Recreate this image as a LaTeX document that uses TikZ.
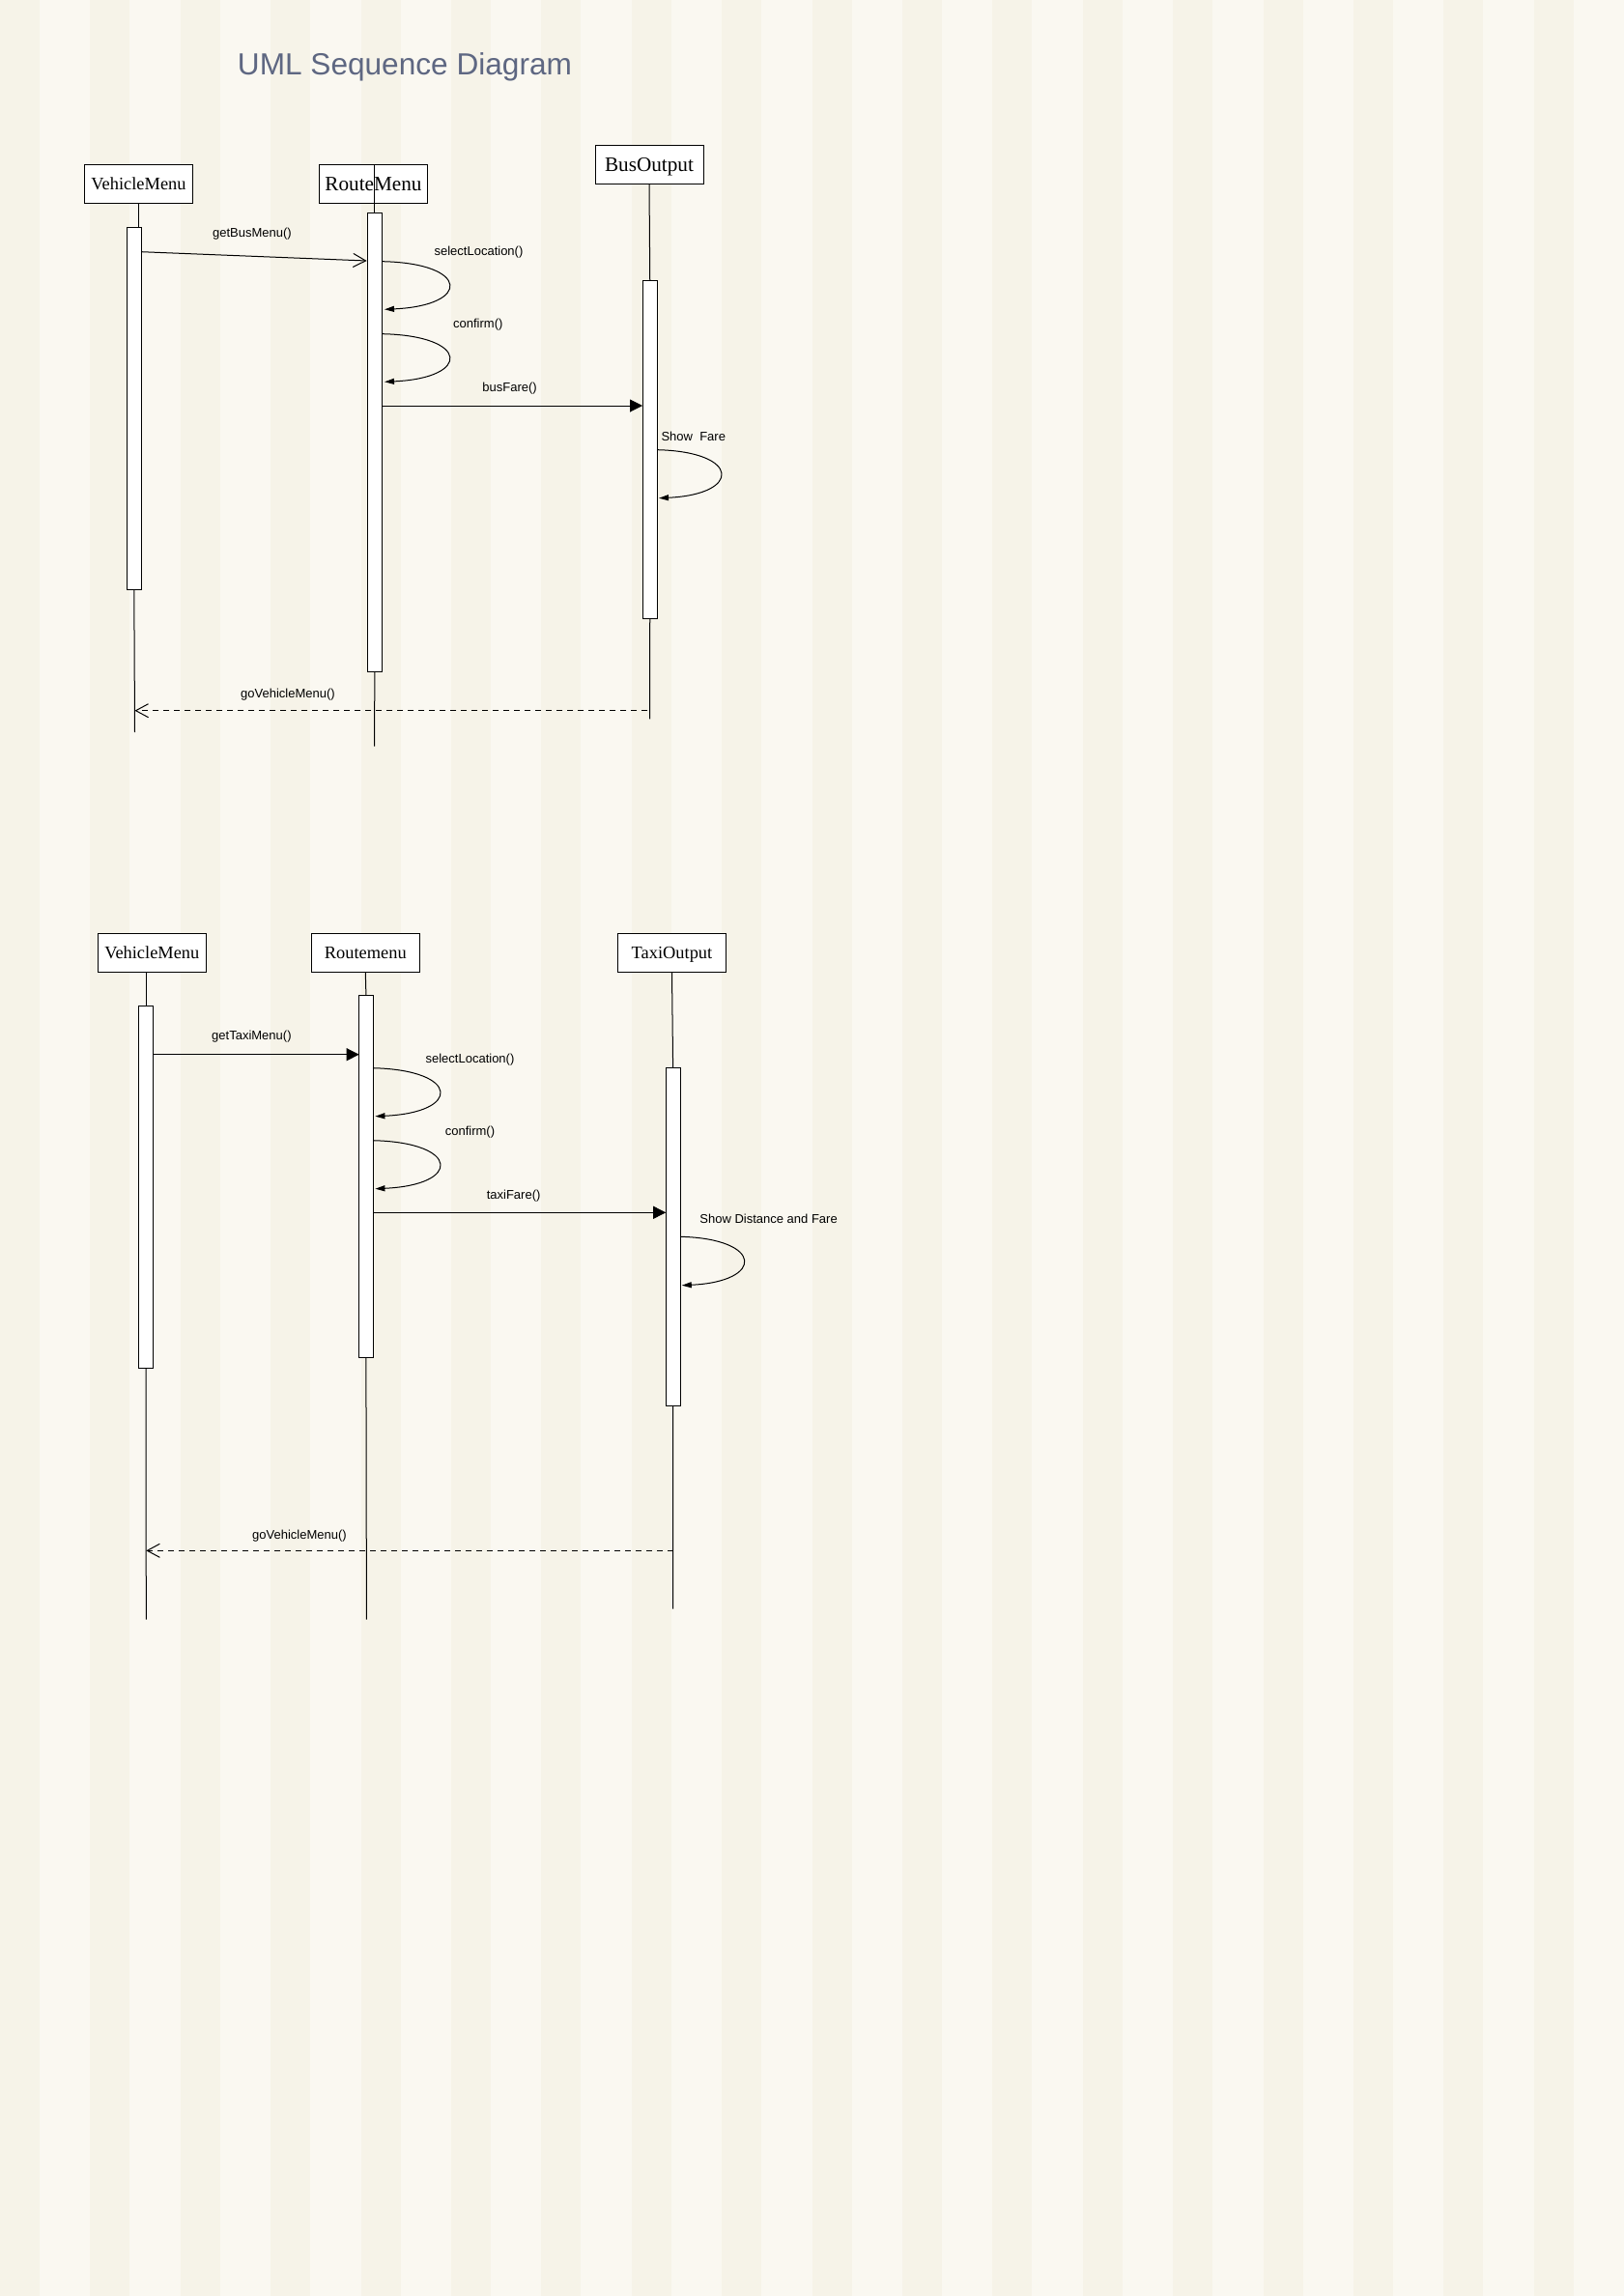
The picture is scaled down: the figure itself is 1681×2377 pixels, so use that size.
\documentclass[tikz,border=0pt]{standalone}
\usepackage{fontspec}
\setmainfont{Liberation Serif}
\newfontfamily\msgfont{Liberation Sans}
\usetikzlibrary{arrows.meta}
\definecolor{stripelight}{RGB}{250,248,241}
\definecolor{stripedark}{RGB}{246,243,232}
\definecolor{titleblue}{RGB}{94,103,130}

\begin{document}
\begin{tikzpicture}[x=0.5pt, y=-0.5pt,
	obj/.style={draw, fill=white, line width=0.5pt, minimum width=56pt, minimum height=20pt, inner sep=0pt, text height=6pt, text depth=0pt, font=\fontsize{9.2}{10}\selectfont},
	bigobj/.style={obj, text height=7pt, font=\fontsize{10.6}{12}\selectfont},
	bar/.style={draw, fill=white, line width=0.5pt, minimum width=7.6pt, inner sep=0pt},
	life/.style={line width=0.5pt},
	msg/.style={font=\msgfont\fontsize{6.5}{7.5}\selectfont, inner sep=0pt},
	syncmsg/.style={line width=0.5pt, -{Triangle[length=6.5pt,width=6.5pt]}},
	asyncmsg/.style={line width=0.5pt, -{Straight Barb[length=6.5pt,width=7pt]}},
	retmsg/.style={asyncmsg, dash pattern=on 3pt off 2.5pt},
	selfmsg/.style={line width=0.5pt, -{Triangle[length=5pt,width=3pt]}}]

	\fill[stripelight] (0,0) rectangle (1681,2377);
	\foreach \i in {0,...,17}
		\fill[stripedark] (\i*93.4,0) rectangle ++(41,2377);
	\useasboundingbox (0,0) rectangle (1681,2377);

	\node[msg, font=\msgfont\fontsize{15.8}{19}\selectfont, text=titleblue] (title) at (419,69.5) {UML Sequence Diagram};

	\node[obj] (vm1) at (143.5,190.5) {VehicleMenu};
	\node[bigobj] (rm1) at (386.5,190.5) {RouteMenu};
	\node[bigobj] (bo1) at (672,170.7) {BusOutput};
	\node[bar, minimum height=187.2pt] (vm1b) at (138.8,422.9) {};
	\node[bar, minimum height=237.7pt] (rm1b) at (387.9,458) {};
	\node[bar, minimum height=175pt] (bo1b) at (672.75,465.7) {};
	\coordinate (vm1e) at (139.5,758);
	\coordinate (rm1e) at (387.5,772.7);
	\coordinate (bo1e) at (672.5,744.3);

	\draw[life] (vm1.south) -- (vm1b.north -| vm1.south);
	\draw[life] (vm1b.south) -- (vm1e);
	\draw[life] (rm1b.north |- rm1.north) -- (rm1b.north);
	\draw[life] (rm1b.south) -- (rm1e);
	\draw[life] (bo1.south) -- (bo1b.north);
	\draw[life] (bo1b.south) -- (bo1e);

	\coordinate (m1a) at (146.2,260.7);
	\coordinate (m1b) at (379.6,270);
	\coordinate (m2a) at (396.2,270.7);
	\coordinate (m2b) at (398,320.3);
	\coordinate (m3a) at (396.2,345.7);
	\coordinate (m3b) at (398,395.3);
	\coordinate (m4a) at (396.2,420);
	\coordinate (m4b) at (665,420);
	\coordinate (m5a) at (680.5,465.7);
	\coordinate (m5b) at (682,515.7);
	\coordinate (m6a) at (670.3,735.7);
	\coordinate (m6b) at (139.5,735.7);

	\draw[asyncmsg] (m1a) -- (m1b);
	\draw[selfmsg] (m2a) .. controls +(90,2) and +(90,-4) .. (m2b);
	\draw[selfmsg] (m3a) .. controls +(90,2) and +(90,-4) .. (m3b);
	\draw[syncmsg] (m4a) -- (m4b);
	\draw[selfmsg] (m5a) .. controls +(86,2) and +(86,-4) .. (m5b);
	\draw[retmsg] (m6a) -- (m6b);

	\node[msg] (l1) at (261,241.7) {getBusMenu()};
	\node[msg] (l2) at (495.5,260.7) {selectLocation()};
	\node[msg] (l3) at (494.8,336) {confirm()};
	\node[msg] (l4) at (527.6,401.7) {busFare()};
	\node[msg] (l5) at (717.8,452.3) {Show\ \ Fare};
	\node[msg] (l6) at (298,719) {goVehicleMenu()};

	\node[obj] (vm2) at (157.3,986.3) {VehicleMenu};
	\node[obj] (rm2) at (378.3,986.3) {Routemenu};
	\node[obj] (to2) at (695.5,986.3) {TaxiOutput};
	\node[bar, minimum height=187.4pt] (vm2b) at (151,1228.7) {};
	\node[bar, minimum height=187.4pt] (rm2b) at (378.9,1217.7) {};
	\node[bar, minimum height=175pt] (to2b) at (696.6,1280.7) {};
	\coordinate (vm2e) at (151.3,1676.7);
	\coordinate (rm2e) at (379.4,1676.7);
	\coordinate (to2e) at (696.7,1665.7);

	\draw[life] (vm2b.north |- vm2.south) -- (vm2b.north);
	\draw[life] (vm2b.south) -- (vm2e);
	\draw[life] (rm2.south) -- (rm2b.north);
	\draw[life] (rm2b.south) -- (rm2e);
	\draw[life] (to2.south) -- (to2b.north);
	\draw[life] (to2b.south) -- (to2e);

	\coordinate (n1a) at (158.2,1091.7);
	\coordinate (n1b) at (371.7,1091.7);
	\coordinate (n2a) at (386,1105.7);
	\coordinate (n2b) at (388.4,1155.7);
	\coordinate (n3a) at (386,1180.7);
	\coordinate (n3b) at (388.4,1230.7);
	\coordinate (n4a) at (386,1255.3);
	\coordinate (n4b) at (689.2,1255.3);
	\coordinate (n5a) at (704.1,1280.3);
	\coordinate (n5b) at (705.8,1330.7);
	\coordinate (n6a) at (696.7,1605.3);
	\coordinate (n6b) at (151.3,1605.3);

	\draw[syncmsg] (n1a) -- (n1b);
	\draw[selfmsg] (n2a) .. controls +(90,2) and +(90,-4) .. (n2b);
	\draw[selfmsg] (n3a) .. controls +(90,2) and +(90,-4) .. (n3b);
	\draw[syncmsg] (n4a) -- (n4b);
	\draw[selfmsg] (n5a) .. controls +(86,2) and +(86,-4) .. (n5b);
	\draw[retmsg] (n6a) -- (n6b);

	\node[msg] (k1) at (260.4,1073.3) {getTaxiMenu()};
	\node[msg] (k2) at (486.5,1096.7) {selectLocation()};
	\node[msg] (k3) at (486.5,1171.7) {confirm()};
	\node[msg] (k4) at (531.6,1237.7) {taxiFare()};
	\node[msg] (k5) at (795.6,1261.7) {Show Distance and Fare};
	\node[msg] (k6) at (310,1590) {goVehicleMenu()};
\end{tikzpicture}
\end{document}
